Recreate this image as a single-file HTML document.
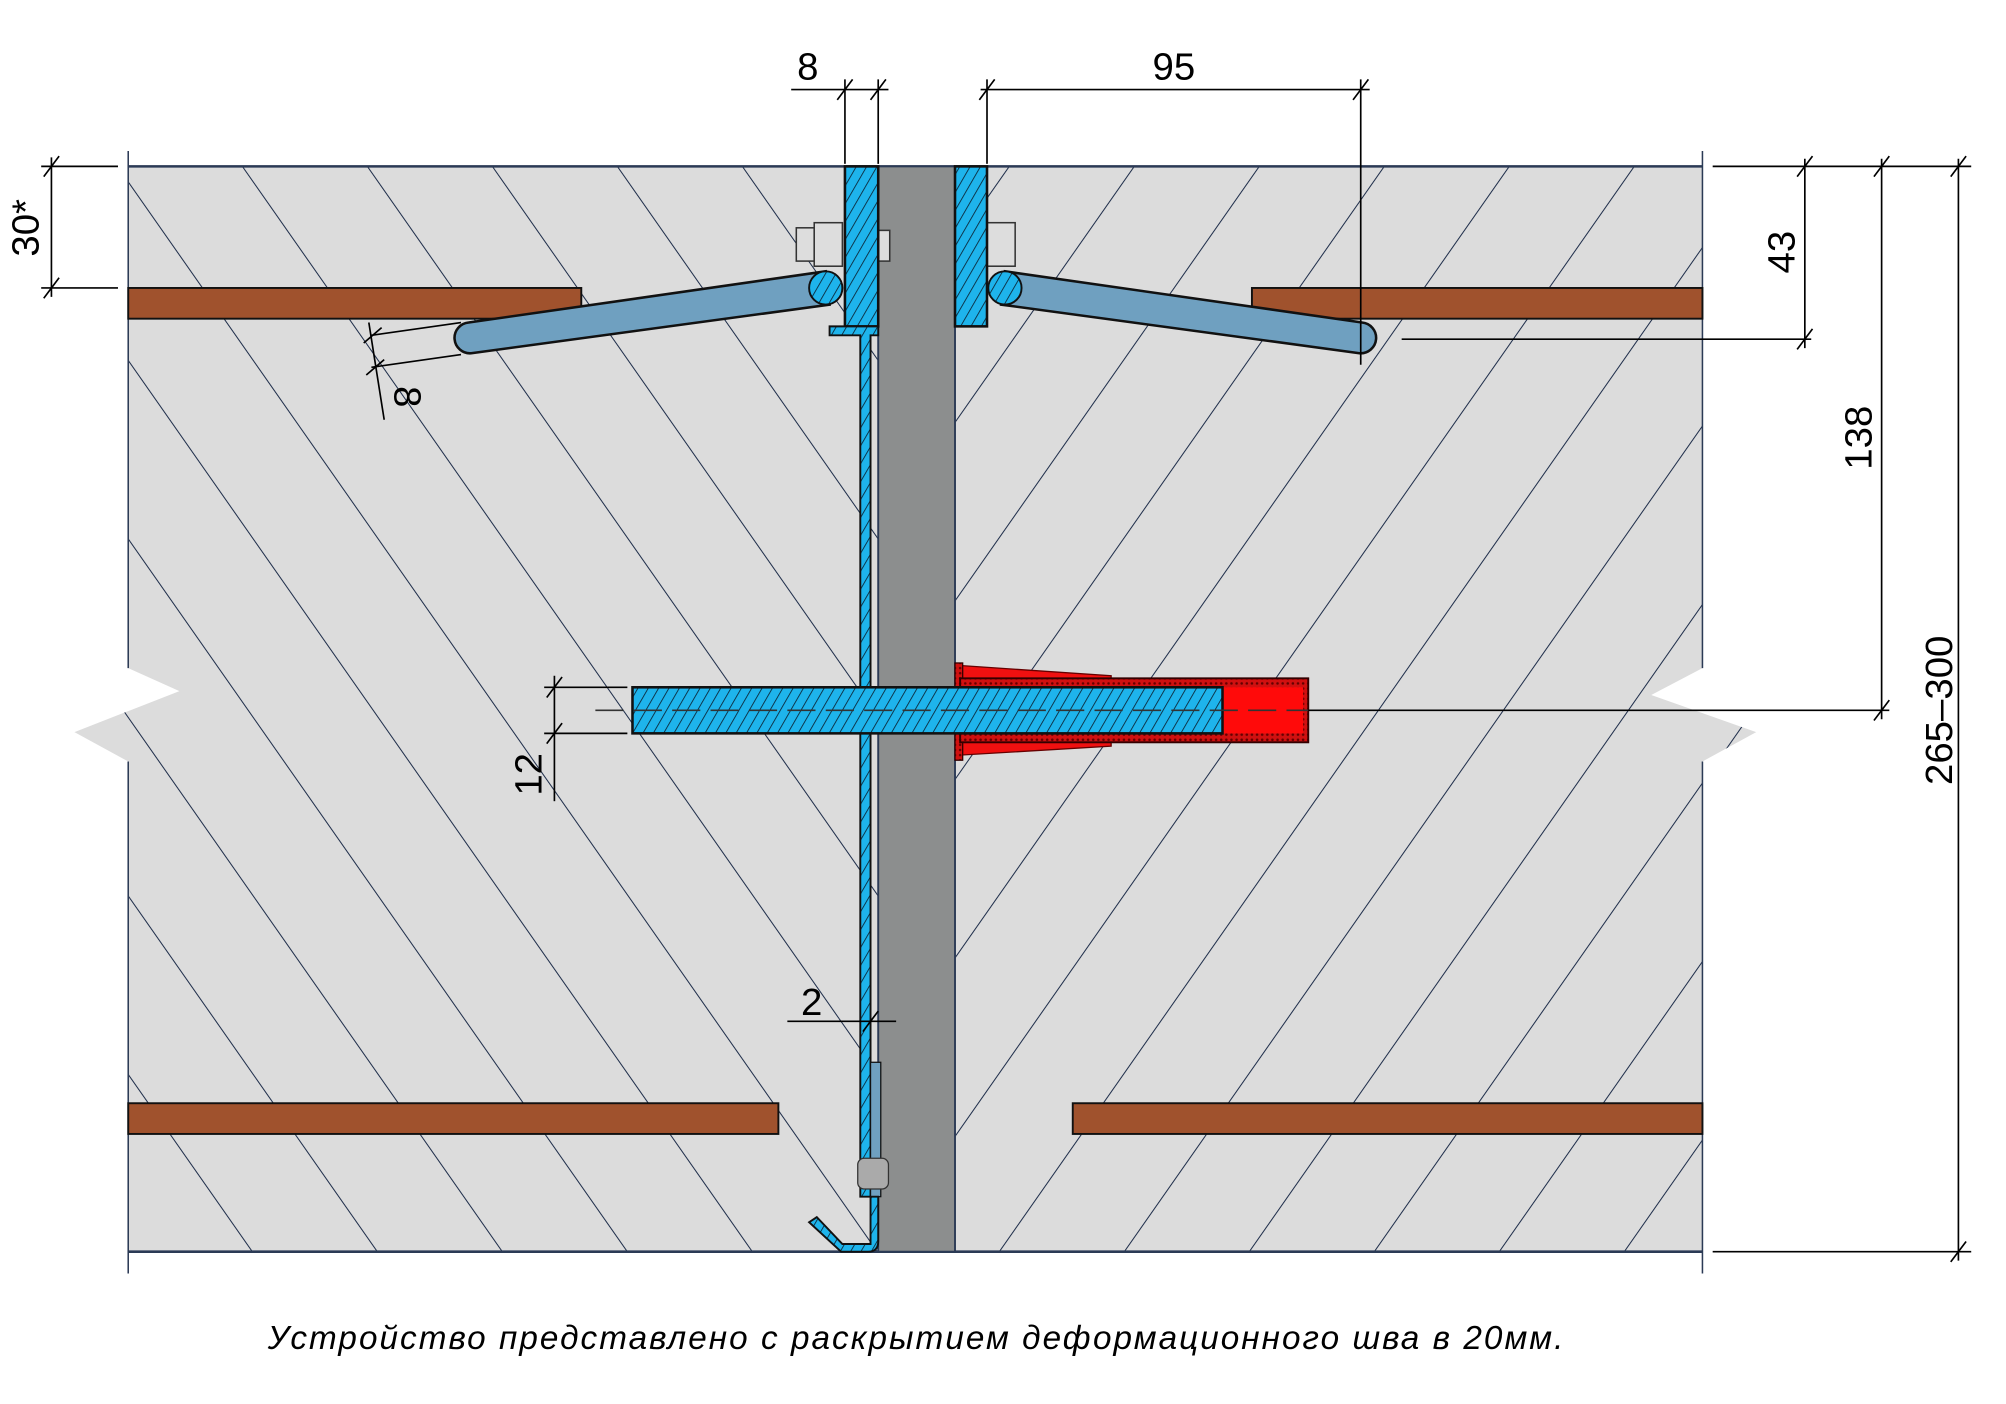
<!DOCTYPE html>
<html><head><meta charset="utf-8"><style>html,body{margin:0;padding:0;background:#fff}svg{display:block}</style></head>
<body>
<svg width="2006" height="1404" viewBox="0 0 1567 1097" xmlns="http://www.w3.org/2000/svg" font-family="Liberation Sans, DejaVu Sans, sans-serif">
<defs>
<pattern id="hl" patternUnits="userSpaceOnUse" width="80" height="95" patternTransform="rotate(-35)">
<line x1="0" y1="0" x2="0" y2="95" stroke="#1e2d4a" stroke-width="1.6" stroke-dasharray="150 45"/>
</pattern>
<pattern id="hr" patternUnits="userSpaceOnUse" width="80" height="95" patternTransform="rotate(35)">
<line x1="0" y1="0" x2="0" y2="95" stroke="#1e2d4a" stroke-width="1.6" stroke-dasharray="150 45"/>
</pattern>
<pattern id="bh" patternUnits="userSpaceOnUse" width="7" height="7" patternTransform="rotate(30)">
<rect width="7" height="7" fill="#1eb4ec"/><line x1="0" y1="0" x2="0" y2="7" stroke="#0a2030" stroke-width="1.3"/>
</pattern>
<pattern id="rh" patternUnits="userSpaceOnUse" width="4" height="4">
<rect width="4" height="4" fill="#d01010"/><circle cx="2" cy="2" r="1" fill="#600"/>
</pattern>
</defs>
<rect width="1567" height="1097" fill="#fff"/>
<path d="M100,130 H686 V978 H100 V595 L58,572 L140,540 L100,522 Z" fill="#dcdcdc"/>
<path d="M100,130 H686 V978 H100 V595 L58,572 L140,540 L100,522 Z" fill="url(#hl)"/>
<path d="M746,130 H1330 V522 L1290,543 L1372,572 L1330,595 V978 H746 Z" fill="#dcdcdc"/>
<path d="M746,130 H1330 V522 L1290,543 L1372,572 L1330,595 V978 H746 Z" fill="url(#hr)"/>
<line x1="100" y1="118" x2="100" y2="522" stroke="#2b3a55" stroke-width="1.2"/>
<line x1="100" y1="595" x2="100" y2="995" stroke="#2b3a55" stroke-width="1.2"/>
<line x1="1330" y1="118" x2="1330" y2="522" stroke="#2b3a55" stroke-width="1.2"/>
<line x1="1330" y1="595" x2="1330" y2="995" stroke="#2b3a55" stroke-width="1.2"/>
<line x1="100" y1="130" x2="1330" y2="130" stroke="#2b3a55" stroke-width="2"/>
<line x1="100" y1="978" x2="1330" y2="978" stroke="#2b3a55" stroke-width="2"/>
<rect x="686" y="130" width="60" height="848" fill="#8c8e8e" stroke="#2b3a55" stroke-width="1.5"/>
<g fill="#a0522d" stroke="#111" stroke-width="1.5">
<rect x="100" y="225" width="354" height="24"/><rect x="978" y="225" width="352" height="24"/>
<rect x="100" y="862" width="508" height="24"/><rect x="838" y="862" width="492" height="24"/>
</g>
<g stroke="#111" stroke-width="2" fill="#6fa0c0">
<path d="M645,212 L366,252 A12,12 0 0 0 368,276 L648,238 Z"/>
<path d="M785,212 L1064,252 A12,12 0 0 1 1062,276 L782,238 Z"/>
</g>
<circle cx="645" cy="225" r="13" fill="url(#bh)" stroke="#111" stroke-width="1.5"/>
<circle cx="785" cy="225" r="13" fill="url(#bh)" stroke="#111" stroke-width="1.5"/>
<g fill="#ddd" stroke="#333" stroke-width="1.2">
<rect x="622" y="178" width="14" height="26"/><rect x="636" y="174" width="22" height="34"/><rect x="686" y="180" width="9" height="24"/>
<rect x="771" y="174" width="22" height="34"/>
</g>
<rect x="660" y="130" width="26" height="125" fill="url(#bh)" stroke="#111" stroke-width="2"/>
<rect x="746" y="130" width="25" height="125" fill="url(#bh)" stroke="#111" stroke-width="2"/>
<path d="M648,255 H686 V262 H680 V935 H672 V262 H648 Z" fill="url(#bh)" stroke="#111" stroke-width="1.5"/>
<rect x="680" y="830" width="8" height="105" fill="#6fa0c0" stroke="#111" stroke-width="1"/>
<rect x="670" y="905" width="24" height="24" rx="5" fill="#aaa" stroke="#333"/>
<path d="M686,935 V970 Q686,978 678,978 H657 L632,955 L638,951 L658,972 H680 V935 Z" fill="url(#bh)" stroke="#111" stroke-width="1.5"/>
<path d="M750,520 L868,528 V537 H750 Z M750,573 H868 V583 L750,590 Z" fill="#f01010" stroke="#600" stroke-width="1"/>
<rect x="746" y="518" width="6" height="76" fill="url(#rh)" stroke="#300" stroke-width="1"/>
<rect x="750" y="530" width="272" height="50" fill="url(#rh)" stroke="#300" stroke-width="1.5"/>
<rect x="955" y="537" width="63" height="36" fill="#ff0a0a"/>
<rect x="494" y="537" width="461" height="36" fill="url(#bh)" stroke="#111" stroke-width="2"/>
<line x1="465" y1="555" x2="1022" y2="555" stroke="#333" stroke-width="1.3" stroke-dasharray="22 8"/>
<g stroke="#000" stroke-width="1.3" fill="none">
<line x1="660" y1="62" x2="660" y2="128"/><line x1="686" y1="62" x2="686" y2="128"/>
<line x1="618" y1="70" x2="694" y2="70"/>
<line x1="771" y1="62" x2="771" y2="128"/><line x1="1063" y1="62" x2="1063" y2="285"/>
<line x1="766" y1="70" x2="1070" y2="70"/>
<line x1="32" y1="130" x2="92" y2="130"/><line x1="32" y1="225" x2="92" y2="225"/>
<line x1="40" y1="123" x2="40" y2="232"/>
<line x1="1338" y1="130" x2="1540" y2="130"/>
<line x1="1095" y1="265" x2="1415" y2="265"/>
<line x1="1410" y1="124" x2="1410" y2="272"/>
<line x1="1470" y1="124" x2="1470" y2="562"/>
<line x1="1022" y1="555" x2="1476" y2="555"/>
<line x1="1530" y1="124" x2="1530" y2="985"/>
<line x1="1338" y1="978" x2="1540" y2="978"/>
<line x1="425" y1="537" x2="490" y2="537"/><line x1="425" y1="573" x2="490" y2="573"/>
<line x1="433" y1="528" x2="433" y2="626"/>
<line x1="615" y1="798" x2="700" y2="798"/>
<line x1="290" y1="262" x2="360" y2="252"/><line x1="290" y1="287" x2="360" y2="277"/>
<line x1="288" y1="252" x2="300" y2="328"/>
</g>
<g stroke="#000" stroke-width="1.3">
<path d="M654,78 L666,62 M680,78 L692,62 M765,78 L777,62 M1057,78 L1069,62 M34,138 L46,122 M34,233 L46,217 M1404,138 L1416,122 M1404,273 L1416,257 M1464,138 L1476,122 M1464,563 L1476,547 M1524,138 L1536,122 M1524,986 L1536,970 M427,545 L439,529 M427,581 L439,565 M674,806 L686,790 M284,268 L298,256 M286,293 L300,281"/>
</g>
<g font-size="30" fill="#000">
<text x="631" y="62" text-anchor="middle">8</text>
<text x="917" y="62" text-anchor="middle">95</text>
<text x="634" y="793" text-anchor="middle">2</text>
<text transform="translate(30,178) rotate(-90)" text-anchor="middle">30*</text>
<text transform="translate(1402,197) rotate(-90)" text-anchor="middle">43</text>
<text transform="translate(1462,342) rotate(-90)" text-anchor="middle">138</text>
<text transform="translate(1525,555) rotate(-90)" text-anchor="middle">265–300</text>
<text transform="translate(423,605) rotate(-90)" text-anchor="middle">12</text>
<text transform="translate(308,310) rotate(90)" text-anchor="middle">8</text>
</g>
<text x="716" y="1054" text-anchor="middle" font-size="26" font-style="italic" letter-spacing="1.6" fill="#000">Устройство представлено с раскрытием деформационного шва в 20мм.</text>
</svg>
</body></html>
